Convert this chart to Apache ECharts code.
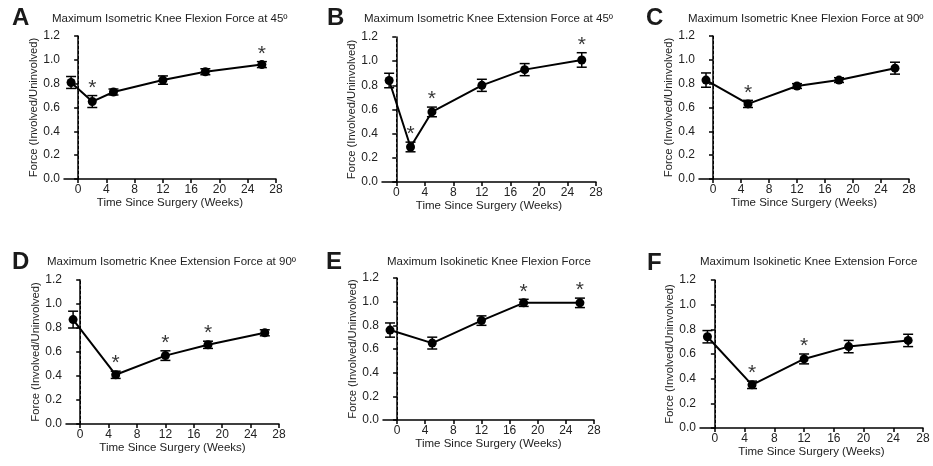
<!DOCTYPE html>
<html>
<head>
<meta charset="utf-8">
<script src="https://cdn.jsdelivr.net/npm/echarts@6/dist/echarts.min.js"></script>
<style>
  html, body { margin: 0; padding: 0; background: #fff; }
  #main { width: 933px; height: 466px; }
</style>
</head>
<body>
<div id="main"></div>
<script>
// time points (weeks since surgery)
var weeksAB = [-1, 2, 5, 12, 18, 26];
var weeksCF = [-1, 5, 12, 18, 26];
var xTicks = [0, 4, 8, 12, 16, 20, 24, 28];

// A
var meanA = [0.81, 0.65, 0.73, 0.83, 0.90, 0.96];
var errA  = [0.05, 0.05, 0.025, 0.035, 0.025, 0.025];
var sigA  = [2, 26];
// B
var meanB = [0.84, 0.29, 0.58, 0.80, 0.93, 1.01];
var errB  = [0.06, 0.04, 0.04, 0.05, 0.05, 0.06];
var sigB  = [2, 5, 26];
// C
var meanC = [0.83, 0.63, 0.78, 0.83, 0.93];
var errC  = [0.06, 0.03, 0.02, 0.02, 0.05];
var sigC  = [5];
// D
var meanD = [0.87, 0.41, 0.57, 0.66, 0.76];
var errD  = [0.07, 0.03, 0.04, 0.03, 0.025];
var sigD  = [5, 12, 18];
// E
var meanE = [0.76, 0.65, 0.84, 0.99, 0.99];
var errE  = [0.06, 0.05, 0.04, 0.03, 0.04];
var sigE  = [18, 26];
// F
var meanF = [0.74, 0.35, 0.56, 0.66, 0.71];
var errF  = [0.05, 0.03, 0.04, 0.05, 0.05];
var sigF  = [5, 12];

var letters = ['A', 'B', 'C', 'D', 'E', 'F'];
var titles = [
  'Maximum Isometric Knee Flexion Force at 45º',
  'Maximum Isometric Knee Extension Force at 45º',
  'Maximum Isometric Knee Flexion Force at 90º',
  'Maximum Isometric Knee Extension Force at 90º',
  'Maximum Isokinetic Knee Flexion Force',
  'Maximum Isokinetic Knee Extension Force'
];
var xName = 'Time Since Surgery (Weeks)';
var yName = 'Force (Involved/Uninvolved)';

var panels = [
  { weeks: weeksAB, mean: meanA, err: errA, sig: sigA },
  { weeks: weeksAB, mean: meanB, err: errB, sig: sigB },
  { weeks: weeksCF, mean: meanC, err: errC, sig: sigC },
  { weeks: weeksCF, mean: meanD, err: errD, sig: sigD },
  { weeks: weeksCF, mean: meanE, err: errE, sig: sigE },
  { weeks: weeksCF, mean: meanF, err: errF, sig: sigF }
];

// layout
var grids = [
  { left: 64, top: 36, width: 212, height: 143 },
  { left: 382, top: 37, width: 214, height: 145 },
  { left: 699, top: 36, width: 210, height: 143 },
  { left: 66, top: 280, width: 213, height: 144 },
  { left: 383, top: 278, width: 211, height: 142 },
  { left: 700, top: 280, width: 223, height: 148 }
];
var letterPos = [[12, 6], [327, 6], [646, 6], [12, 250], [326, 250], [647, 251]];
var titlePos = [[52, 13], [364, 13], [688, 13], [47, 256], [387, 256], [700, 256]];

var font = 'Liberation Sans, Arial, sans-serif';
var myChart = echarts.init(document.getElementById('main'));

var title = [], xAxis = [], yAxis = [], series = [];

panels.forEach(function (p, k) {
  title.push({
    text: letters[k], left: letterPos[k][0], top: letterPos[k][1], padding: 0,
    textStyle: { fontFamily: font, fontSize: 24, fontWeight: 'bold', color: '#1a1a1a' }
  });
  title.push({
    text: titles[k], left: titlePos[k][0], top: titlePos[k][1], padding: 0,
    textStyle: { fontFamily: font, fontSize: 11.5, fontWeight: 'normal', color: '#222' }
  });

  xAxis.push({
    type: 'value', gridIndex: k, min: -2, max: 28,
    name: xName, nameLocation: 'middle', nameGap: 18,
    nameTextStyle: { fontFamily: font, fontSize: 11.5, color: '#222' },
    axisLine: { onZero: false, lineStyle: { color: '#000', width: 1.5 } },
    axisTick: { customValues: xTicks, length: 4, lineStyle: { color: '#000', width: 1.5 } },
    axisLabel: { customValues: xTicks, margin: 5, fontFamily: font, fontSize: 12, color: '#222' },
    splitLine: { show: false }
  });
  yAxis.push({
    type: 'value', gridIndex: k, min: 0, max: 1.2, interval: 0.2,
    name: yName, nameLocation: 'middle', nameGap: 24, nameRotate: 90,
    nameTextStyle: { fontFamily: font, fontSize: 11.2, color: '#222' },
    axisLine: { show: true, lineStyle: { color: '#000', width: 1.5 } },
    axisTick: { show: true, length: 4, lineStyle: { color: '#000', width: 1.5 } },
    axisLabel: {
      margin: 4, fontFamily: font, fontSize: 12, color: '#222',
      formatter: function (v) { return v.toFixed(1); }
    },
    splitLine: { show: false }
  });

  var pts = p.weeks.map(function (w, i) { return [w, p.mean[i]]; });
  var bars = p.weeks.map(function (w, i) { return [w, p.mean[i], p.err[i]]; });
  var stars = p.sig.map(function (w) {
    var i = p.weeks.indexOf(w);
    return [w, p.mean[i] + p.err[i]];
  });

  series.push({
    type: 'custom', xAxisIndex: k, yAxisIndex: k, z: 3,
    data: bars,
    renderItem: function (params, api) {
      var x = api.value(0), m = api.value(1), e = api.value(2);
      var hi = api.coord([x, m + e]), lo = api.coord([x, m - e]);
      var cap = 5;
      var st = { stroke: '#000', lineWidth: 1.5 };
      return {
        type: 'group',
        children: [
          { type: 'line', shape: { x1: hi[0], y1: hi[1], x2: lo[0], y2: lo[1] }, style: st },
          { type: 'line', shape: { x1: hi[0] - cap, y1: hi[1], x2: hi[0] + cap, y2: hi[1] }, style: st },
          { type: 'line', shape: { x1: lo[0] - cap, y1: lo[1], x2: lo[0] + cap, y2: lo[1] }, style: st }
        ]
      };
    }
  });
  series.push({
    type: 'line', xAxisIndex: k, yAxisIndex: k, z: 4,
    data: pts,
    symbol: 'circle', symbolSize: 9,
    itemStyle: { color: '#000' },
    lineStyle: { color: '#000', width: 2 },
    markLine: {
      silent: true, symbol: 'none', label: { show: false },
      lineStyle: { color: '#000', type: [3, 2], width: 1 },
      data: [{ xAxis: 0 }]
    }
  });
  series.push({
    type: 'scatter', xAxisIndex: k, yAxisIndex: k,
    data: stars, symbolSize: 0,
    label: {
      show: true, position: 'top', distance: -3, formatter: '*',
      fontFamily: font, fontSize: 21, color: '#000'
    }
  });
});

var option = {
  animation: false,
  backgroundColor: '#fff',
  title: title,
  grid: grids,
  xAxis: xAxis,
  yAxis: yAxis,
  series: series
};

myChart.setOption(option);
</script>
</body>
</html>
